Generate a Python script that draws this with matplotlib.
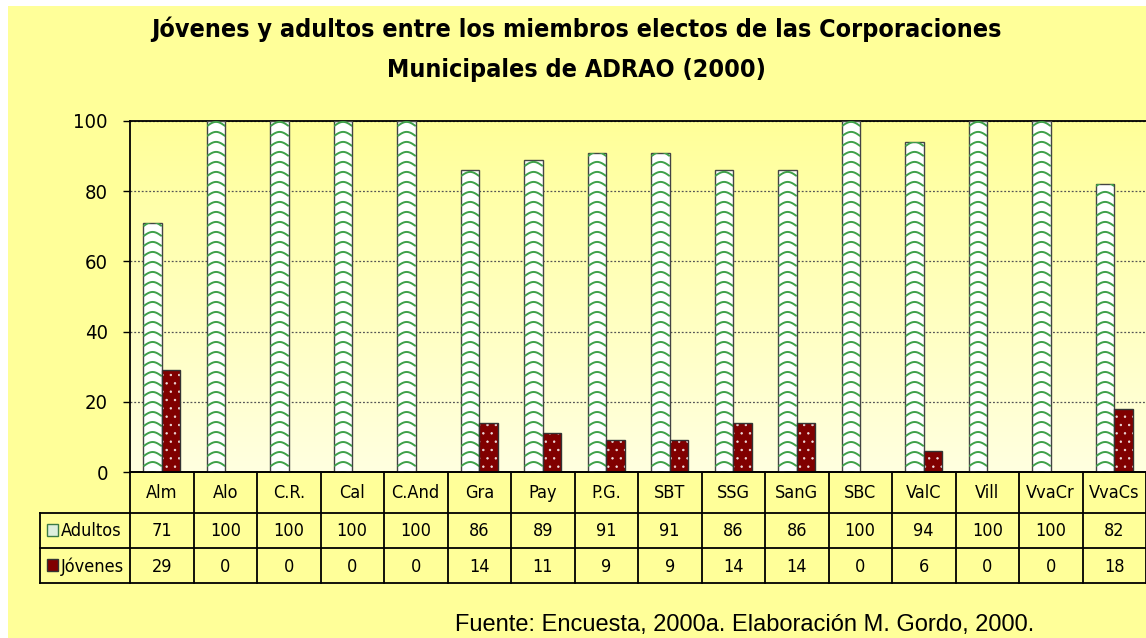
import numpy as np
import matplotlib
matplotlib.use("Agg")
import matplotlib.pyplot as plt
from matplotlib import font_manager as fm
from matplotlib.patches import Rectangle
from matplotlib.colors import LinearSegmentedColormap

# ---------------- data ----------------
categories = ['Alm', 'Alo', 'C.R.', 'Cal', 'C.And', 'Gra', 'Pay', 'P.G.',
              'SBT', 'SSG', 'SanG', 'SBC', 'ValC', 'Vill', 'VvaCr', 'VvaCs']
adultos = [71, 100, 100, 100, 100, 86, 89, 91, 91, 86, 86, 100, 94, 100, 100, 82]
jovenes = [29, 0, 0, 0, 0, 14, 11, 9, 9, 14, 14, 0, 6, 0, 0, 18]
series_names = ['Adultos', 'Jóvenes']
yticks = [0, 20, 40, 60, 80, 100]
title_lines = ['Jóvenes y adultos entre los miembros electos de las Corporaciones',
               'Municipales de ADRAO (2000)']
source_text = 'Fuente: Encuesta, 2000a. Elaboración M. Gordo, 2000.'

# ---------------- fonts ----------------
names = {f.name for f in fm.fontManager.ttflist}
if 'Liberation Sans Narrow' in names:
    NARROW = dict(family='Liberation Sans Narrow')
elif any(f.name == 'DejaVu Sans' and f.stretch == 'condensed' for f in fm.fontManager.ttflist):
    NARROW = dict(family='DejaVu Sans', fontstretch='condensed')
else:
    NARROW = dict(family='Liberation Sans')
REGULAR = dict(family='Liberation Sans')

W, H = 1146, 638
fig = plt.figure(figsize=(W / 100, H / 100), dpi=100, facecolor='white')


def fx(px):
    return px / W


def fy(py):
    return 1 - py / H


BG = '#FFFF99'
fig.patches.append(Rectangle((fx(8), 0), 1 - fx(8), fy(6), transform=fig.transFigure,
                             facecolor=BG, edgecolor='none', zorder=-10))

# ---------------- main axes ----------------
ax_left, ax_top, ax_bottom = 130, 121, 472
ax = fig.add_axes([fx(ax_left), fy(ax_bottom), 1 - fx(ax_left), fy(ax_top) - fy(ax_bottom)])
ax.set_facecolor('none')
grad = np.linspace(0, 1, 256).reshape(-1, 1)
cmap = LinearSegmentedColormap.from_list('bg', ['#FFFF99', '#FFFFE0'])
ax.imshow(grad, cmap=cmap, extent=(0, 1, 0, 1), transform=ax.transAxes,
          aspect='auto', zorder=0, interpolation='bilinear')

n = len(categories)
x = np.arange(n)
bw = 0.288
plt.rcParams['hatch.linewidth'] = 0.5

b1 = ax.bar(x - bw / 2, adultos, bw, color='white', edgecolor='#444444',
            linewidth=1.0, zorder=3)
b2 = ax.bar(x + bw / 2, jovenes, bw, color='#800000', edgecolor='#F0E0E0',
            hatch='..', linewidth=0, zorder=3)
ax.bar(x + bw / 2, jovenes, bw, fill=False, edgecolor='#333333', linewidth=1.0, zorder=4)

ax.set_xlim(-0.5, n - 0.5)
ax.set_ylim(0, 100)

# chevron pattern inside Adultos bars (derived from each bar's geometry)
step = 2.85
amp = 1.2
t = np.linspace(0, 1, 13)
for p in b1:
    x0, w, h = p.get_x(), p.get_width(), p.get_height()
    xs, ys = [], []
    yb = -amp
    while yb < h:
        xs.extend(list(x0 + t * w) + [np.nan])
        ys.extend(list(yb + amp * np.sin(np.pi * t)) + [np.nan])
        yb += step
    ln, = ax.plot(xs, ys, color='#3FA04A', lw=1.4, zorder=3.5, solid_capstyle='butt')
    ln.set_clip_path(p)

ax.set_axisbelow(True)
ax.yaxis.grid(True, linestyle=(0, (1.5, 1.5)), color='#555555', linewidth=0.9)
ax.set_xticks([])
ax.set_yticks(yticks, labels=[str(v) for v in yticks], fontsize=14.5, **NARROW)
ax.tick_params(axis='y', direction='out', length=5, width=1, pad=11, colors='black')
for s in ['left', 'bottom', 'top']:
    ax.spines[s].set_color('black')
    ax.spines[s].set_linewidth(1.3)
ax.spines['right'].set_visible(False)

# ---------------- data table ----------------
tab_bottom = 583
tax = fig.add_axes([fx(ax_left), fy(tab_bottom), 1 - fx(ax_left), fy(ax_bottom) - fy(tab_bottom)])
tax.set_xlim(-0.5, n - 0.5)
tab_h = tab_bottom - ax_bottom
tax.set_ylim(tab_h, 0)
tax.axis('off')

col_px = (W - ax_left) / n
lab_left = -0.5 - (ax_left - 40) / col_px
rows = [0, 41, 76, tab_h]
lk = dict(color='black', lw=1.3, clip_on=False, solid_capstyle='projecting')
for i, yb in enumerate(rows):
    tax.plot([-0.5 if i == 0 else lab_left, n - 0.5], [yb, yb], **lk)
for k in range(n + 1):
    tax.plot([k - 0.5, k - 0.5], [0, tab_h], **lk)
tax.plot([lab_left, lab_left], [rows[1], tab_h], **lk)

tfs = 13
for i, c in enumerate(categories):
    tax.text(i, (rows[0] + rows[1]) / 2 + 1, c, ha='center', va='center', fontsize=tfs, **NARROW)
    tax.text(i, (rows[1] + rows[2]) / 2 + 1, str(adultos[i]), ha='center', va='center', fontsize=tfs, **NARROW)
    tax.text(i, (rows[2] + rows[3]) / 2 + 1, str(jovenes[i]), ha='center', va='center', fontsize=tfs, **NARROW)

key_colors = [('#DDEFDD', '#3A7A45'), ('#800000', '#333333')]
for r, (name, (fc, ec)) in enumerate(zip(series_names, key_colors)):
    yc = (rows[r + 1] + rows[r + 2]) / 2
    tax.add_patch(Rectangle((lab_left + 7 / col_px, yc - 7), 11 / col_px, 12,
                            facecolor=fc, edgecolor=ec, lw=1, clip_on=False))
    tax.text(lab_left + 21 / col_px, yc + 1, name, ha='left', va='center',
             fontsize=tfs, clip_on=False, **NARROW)

# ---------------- titles ----------------
fig.text(fx(576), fy(37), title_lines[0], ha='center', va='baseline',
         fontsize=18, fontweight='bold', **NARROW)
fig.text(fx(576), fy(77), title_lines[1], ha='center', va='baseline',
         fontsize=18, fontweight='bold', **NARROW)
fig.text(fx(455), fy(631), source_text, ha='left', va='baseline', fontsize=17, **REGULAR)

fig.savefig('out.png', dpi=100, facecolor='white')
